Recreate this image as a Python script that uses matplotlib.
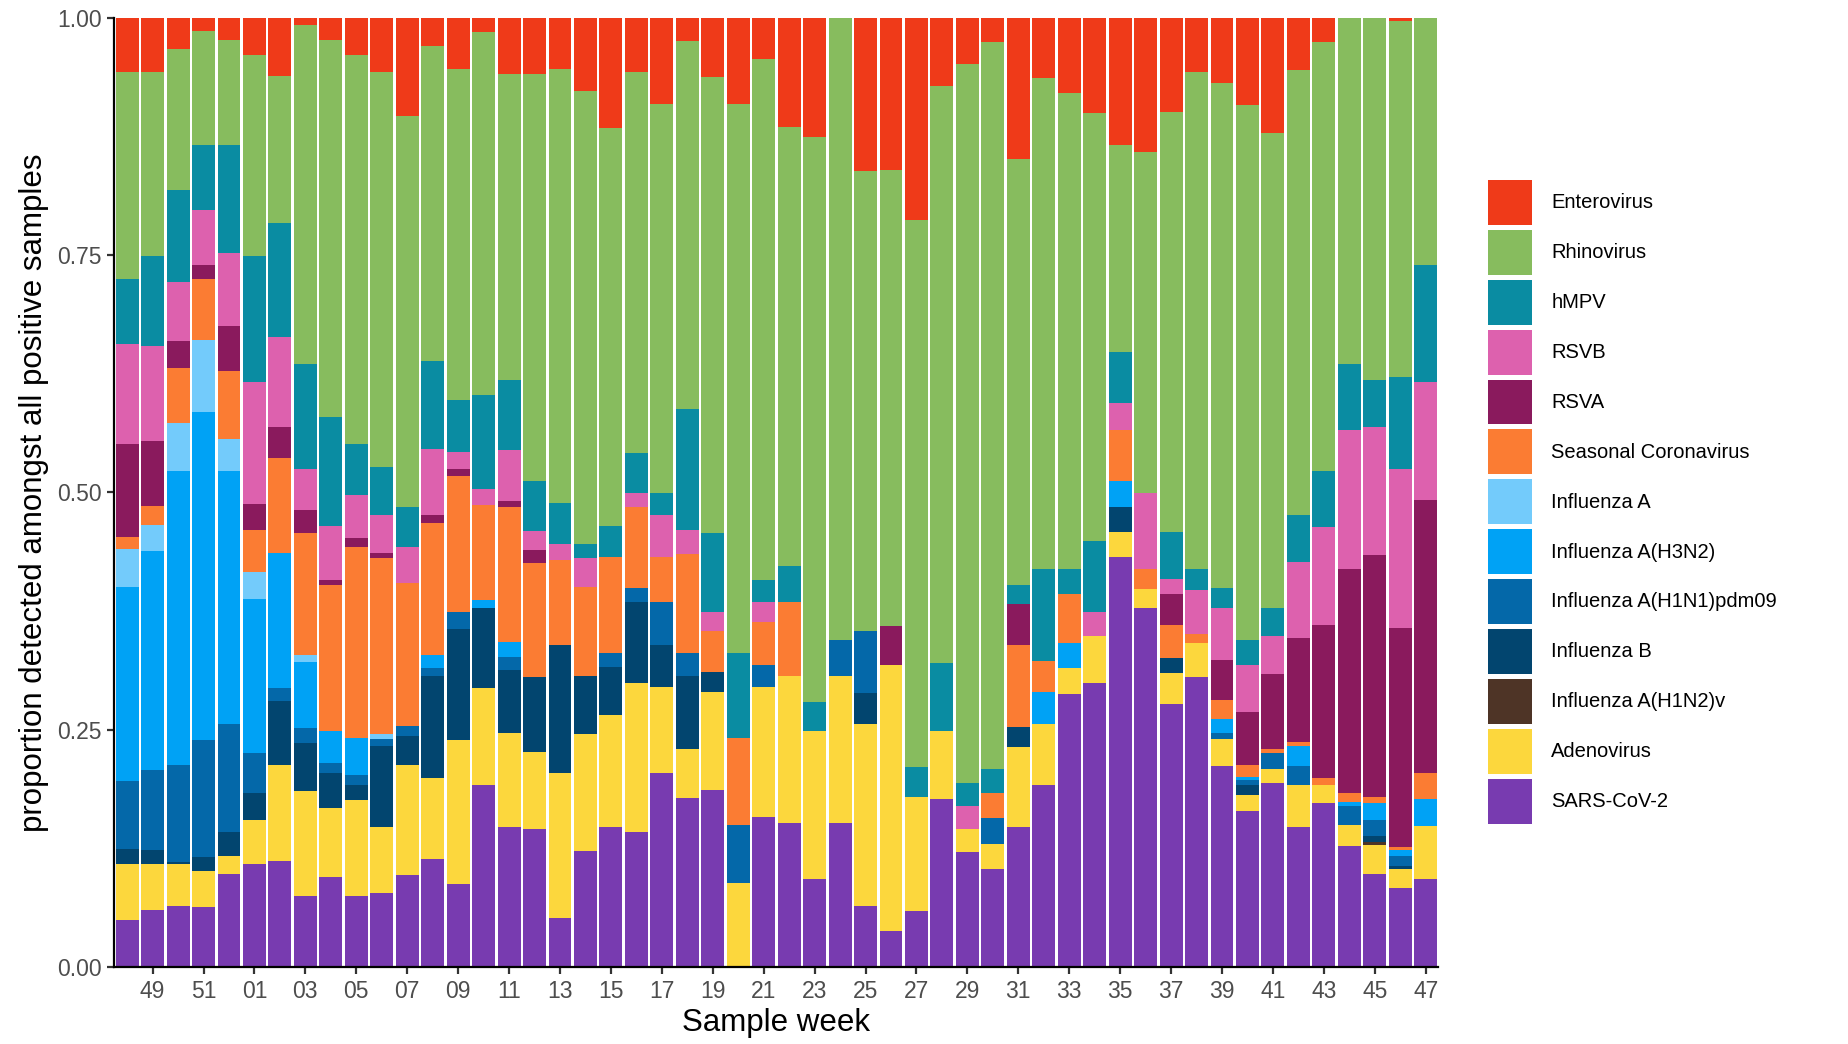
import matplotlib
matplotlib.use("Agg")
import matplotlib.pyplot as plt
from matplotlib.patches import Patch
import numpy as np

plt.rcParams['font.family'] = ['Liberation Sans', 'DejaVu Sans']

weeks = ["48", "49", "50", "51", "52"] + [f"{w:02d}" for w in range(1, 48)]

sars = [.049, .060, .064, .063, .098, .109, .112, .075, .095, .075,
        .078, .097, .114, .087, .192, .148, .145, .052, .122, .148,
        .142, .204, .178, .186, 0, .158, .152, .093, .152, .064,
        .038, .059, .177, .121, .103, .147, .192, .288, .299, .432,
        .378, .277, .305, .212, .164, .194, .148, .173, .127, .098,
        .083, .093]
adeno = [.060, .049, .045, .038, .019, .046, .101, .110, .073, .101,
         .070, .116, .085, .152, .102, .098, .081, .152, .123, .117,
         .157, .091, .052, .104, .089, .137, .155, .156, .155, .192,
         .280, .120, .072, .024, .027, .085, .064, .027, .050, .026,
         .020, .033, .036, .028, .017, .015, .044, .019, .023, .031,
         .020, .056]
h1n2v = [0] * 49 + [.003, 0, 0]
flub = [.015, .014, .002, .015, .025, .028, .067, .051, .036, .016,
        .085, .030, .108, .117, .084, .067, .079, .135, .062, .051,
        .086, .044, .077, .021, 0, 0, 0, 0, 0, .033,
        0, 0, 0, 0, 0, .021, 0, 0, 0, .027,
        0, .016, 0, 0, .011, 0, 0, 0, 0, .006,
        .003, 0]
h1n1 = [.072, .085, .102, .123, .114, .042, .014, .016, .011, .010,
        .007, .011, .008, .018, 0, .014, 0, 0, 0, .015,
        .014, .046, .024, 0, .061, .023, 0, 0, .037, .065,
        0, 0, 0, 0, .027, 0, 0, 0, 0, 0,
        0, 0, 0, .007, .005, .016, .020, 0, .020, .017,
        .011, 0]
h3n2 = [.204, .230, .309, .346, .266, .163, .142, .069, .034, .039,
        0, 0, .014, 0, .009, .015, 0, 0, 0, 0,
        0, 0, 0, 0, 0, 0, 0, 0, 0, 0,
        0, 0, 0, 0, 0, 0, .034, .026, 0, .027,
        0, 0, 0, .014, .003, 0, .021, 0, .004, .018,
        .006, .028]
flua = [.040, .028, .051, .075, .034, .028, 0, .008, 0, 0,
        .005] + [0] * 41
scov = [.013, .020, .058, .065, .072, .044, .100, .128, .153, .201,
        .186, .150, .139, .143, .100, .143, .121, .090, .093, .101,
        .086, .047, .104, .043, .091, .045, .077, 0, 0, 0,
        0, 0, 0, 0, .026, .086, .032, .052, 0, .054,
        .021, .034, .010, .020, .013, .005, .004, .007, .009, .006,
        .003, .027]
rsva = [.098, .068, .028, .015, .047, .028, .033, .024, .006, .010,
        .005, 0, .008, .008, 0, .006, .013, 0, 0, 0,
        0, 0, 0, 0, 0, 0, 0, 0, 0, 0,
        .041, 0, 0, 0, 0, .043, 0, 0, 0, 0,
        0, .033, 0, .042, .056, .079, .110, .161, .236, .255,
        .231, .288]
rsvb = [.105, .100, .063, .057, .077, .128, .095, .044, .057, .045,
        .040, .038, .070, .018, .017, .054, .020, .017, .031, 0,
        .014, .044, .025, .020, 0, .022, 0, 0, 0, 0,
        0, 0, 0, .025, 0, 0, 0, 0, .025, .028,
        .080, .016, .046, .055, .049, .040, .080, .104, .147, .135,
        .168, .124]
hmpv = [.069, .095, .097, .069, .114, .133, .120, .110, .114, .054,
        .051, .043, .092, .054, .099, .073, .053, .043, .015, .033,
        .042, .023, .128, .083, .090, .023, .038, .030, 0, 0,
        0, .032, .071, .024, .026, .020, .097, .026, .075, .054,
        0, .049, .022, .021, .026, .029, .049, .058, .069, .049,
        .097, .123]
rhino = [.218, .194, .148, .120, .111, .212, .155, .357, .398, .410,
         .416, .411, .332, .349, .382, .323, .429, .457, .477, .419,
         .402, .410, .387, .481, .578, .548, .463, .595, .656, .484,
         .481, .576, .608, .757, .765, .449, .517, .502, .451, .218,
         .360, .443, .524, .532, .564, .501, .469, .452, .365, .382,
         .375, .261]
entero = [.057, .057, .033, .014, .023, .039, .061, .008, .023, .039,
          .057, .104, .030, .054, .015, .059, .059, .054, .077, .116,
          .057, .091, .025, .062, .091, .044, .115, .126, 0, .162,
          .160, .213, .072, .049, .026, .149, .064, .079, .100, .134,
          .141, .099, .057, .069, .092, .121, .055, .026, 0, 0,
          .003, 0]

# bottom -> top stacking order
series_names = ["SARS-CoV-2", "Adenovirus", "Influenza A(H1N2)v", "Influenza B",
                "Influenza A(H1N1)pdm09", "Influenza A(H3N2)", "Influenza A",
                "Seasonal Coronavirus", "RSVA", "RSVB", "hMPV", "Rhinovirus", "Enterovirus"]
series_vals = [sars, adeno, h1n2v, flub, h1n1, h3n2, flua, scov, rsva, rsvb, hmpv, rhino, entero]
colors = ["#783BB0", "#FCD73D", "#4E3426", "#02456F", "#0468A9", "#00A2F5", "#73CBFB",
          "#FB7C33", "#8A1A5D", "#DD61AE", "#0A8CA2", "#87BC5E", "#EF3A19"]

data = np.array(series_vals, dtype=float)
data = data / data.sum(axis=0, keepdims=True)  # position = "fill"

W, H = 1849, 1044
fig = plt.figure(figsize=(W / 100, H / 100), dpi=100)
ax = fig.add_axes([114.4 / W, 77 / H, 1324 / W, 949.3 / H])

x = np.arange(len(weeks))
bottom = np.zeros(len(weeks))
for name, vals, c in zip(series_names, data, colors):
    ax.bar(x, vals, bottom=bottom, width=0.9, color=c, linewidth=0, label=name)
    bottom += vals

ax.set_xlim(-0.5, len(weeks) - 0.5)
ax.set_ylim(0, 1)
tick_idx = [i for i, w in enumerate(weeks) if int(w) % 2 == 1]
ax.set_xticks(tick_idx)
ax.set_xticklabels([weeks[i] for i in tick_idx])
ax.set_yticks([0, 0.25, 0.5, 0.75, 1.0])
ax.set_yticklabels(["0.00", "0.25", "0.50", "0.75", "1.00"])
for s in ["top", "right"]:
    ax.spines[s].set_visible(False)
for s in ["left", "bottom"]:
    ax.spines[s].set_linewidth(1.6)
    ax.spines[s].set_color("black")
ax.tick_params(axis="both", length=5, width=1.6, color="#333333",
               labelsize=16.5, labelcolor="#4D4D4D", pad=4)
ax.set_xlabel("Sample week", fontsize=22.5, labelpad=4)
ax.set_ylabel("proportion detected amongst all positive samples", fontsize=22.5, labelpad=6)

handles = [Patch(facecolor=c, edgecolor="none", label=n)
           for n, c in zip(series_names[::-1], colors[::-1])]
fig.legend(handles=handles, loc="upper left", bbox_to_anchor=(1488 / W, 1 - 180 / H),
           bbox_transform=fig.transFigure, frameon=False, fontsize=14.5,
           handlelength=2.2, handleheight=3.05, labelspacing=0.25,
           handletextpad=0.95, borderpad=0, borderaxespad=0)

fig.savefig("out.png", dpi=100, facecolor="white")
